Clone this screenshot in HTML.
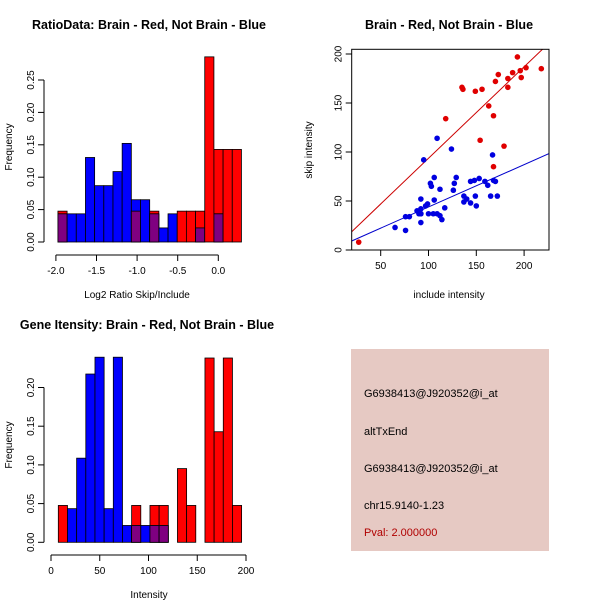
<!DOCTYPE html>
<html><head><meta charset="utf-8"><style>
html,body{margin:0;padding:0;background:#fff;}
svg{display:block;font-family:"Liberation Sans",Arial,sans-serif;}
.t{font-weight:bold;font-size:12.5px;text-anchor:middle;}
.tk{font-size:10px;}
.lb{font-size:10px;text-anchor:middle;}
</style></head><body>
<svg id="c" width="600" height="600" viewBox="0 0 600 600">
<rect width="600" height="600" fill="#fff"/>
<text class="t" x="149" y="29">RatioData: Brain - Red, Not Brain - Blue</text>
<text class="t" x="449" y="29">Brain - Red, Not Brain - Blue</text>
<text class="t" x="147" y="329">Gene Itensity: Brain - Red, Not Brain - Blue</text>
<text class="lb" x="137" y="298">Log2 Ratio Skip/Include</text>
<text class="lb" transform="translate(12,147) rotate(-90)">Frequency</text>
<text class="lb" x="449" y="298">include intensity</text>
<text class="lb" transform="translate(312,150) rotate(-90)">skip intensity</text>
<text class="lb" x="149" y="598">Intensity</text>
<text class="lb" transform="translate(12,445) rotate(-90)">Frequency</text>
<g id="g1"></g><g id="g2"></g><g id="g3"></g>
<g>
<rect x="351" y="349" width="198" height="202" fill="#e6c9c3"/>
<g font-size="11px">
<text x="364" y="397">G6938413@J920352@i_at</text>
<text x="364" y="435">altTxEnd</text>
<text x="364" y="472">G6938413@J920352@i_at</text>
<text x="364" y="509">chr15.9140-1.23</text>
<text x="364" y="536" fill="#b00000">Pval: 2.000000</text>
</g></g>
</svg>
<script>
// Ratio histogram data
const ratioRed = [1,0,0,0,0,0,0,0,1,0,1,0,0,1,1,1,6,3,3,3];
const ratioBlue = [2,2,2,6,4,4,5,7,3,3,2,1,2,0,0,1,0,2,0,0];
const ratioTicksX = [-2.0,-1.5,-1.0,-0.5,0.0];
const ratioTicksY = [0,0.05,0.10,0.15,0.20,0.25];
// Intensity histogram data
const intRed = [1,0,0,0,0,0,0,0,1,0,1,1,0,2,1,0,5,3,5,1];
const intBlue = [0,2,5,10,11,2,11,1,1,1,1,1,0,0,0,0,0,0,0,0];
const intTicksX = [0,50,100,150,200];
const intTicksY = [0,0.05,0.10,0.15,0.20];
// Scatter data
const redX = [27,118,135,136,149,156,154,163,168,168,170,173,179,183,183,188,193,196,197,202,218];
const redY = [8,134,166,164,162,164,112,147,137,85,172,179,106,175,166,181,197,183,176,186,185];
const blueX = [109,124,95,167,65,76,76,80,90,92,92,92,92,92,97,99,100,102,103,106,106,105,109,112,112,114,117,126,127,129,137,137,144,144,148,149,150,153,159,162,165,168,170,172,88,140];
const blueY = [114,103,92,97,23,20,34,34,37,37,37,42,52,28,45,47,37,68,65,74,51,37,37,35,62,31,43,61,68,74,55,49,48,70,71,55,45,73,70,66,55,71,70,55,40,52];
const redFit = [0.3,0.933];
const blueFit = [0.7,0.432];
const scTicksX = [50,100,150,200];
const scTicksY = [0,50,100,150,200];

const NS='http://www.w3.org/2000/svg';
function mk(p,tag,at){const e=document.createElementNS(NS,tag);for(const k in at)e.setAttribute(k,at[k]);p.appendChild(e);return e;}

function hist(g,red,blue,x0,bw,sx,sy,ticksX,ticksY,fmtX,yAxX,baseY){
  const nr=red.reduce((a,b)=>a+b,0), nb=blue.reduce((a,b)=>a+b,0);
  for(let i=0;i<red.length;i++){
    const xl=sx(x0+i*bw), xr=sx(x0+(i+1)*bw);
    const fr=red[i]/nr, fb=blue[i]/nb;
    if(fr>0){const r=mk(g,'rect',{x:xl,y:sy(fr),width:xr-xl,height:sy(0)-sy(fr),fill:'#ff0000',stroke:'#000','stroke-width':0.8});
      
      }
    if(fb>0){const b=mk(g,'rect',{x:xl,y:sy(fb),width:xr-xl,height:sy(0)-sy(fb),fill:'#0000ff',stroke:'#000','stroke-width':0.8});
      
      }
    if(fr>0&&fb>0){const m=Math.min(fr,fb);const p=mk(g,'rect',{x:xl,y:sy(m),width:xr-xl,height:sy(0)-sy(m),fill:'#7f0080',stroke:'#000','stroke-width':0.8});
      
      }
  }
  mk(g,'line',{x1:sx(ticksX[0]),x2:sx(ticksX[ticksX.length-1]),y1:baseY,y2:baseY,stroke:'#000'});
  ticksX.forEach(t=>{mk(g,'line',{x1:sx(t),x2:sx(t),y1:baseY,y2:baseY+6,stroke:'#000'});
    const tx=mk(g,'text',{x:sx(t),y:baseY+19,'text-anchor':'middle',class:'tk'});tx.textContent=fmtX(t);
    
    });
  mk(g,'line',{x1:yAxX,x2:yAxX,y1:sy(ticksY[0]),y2:sy(ticksY[ticksY.length-1]),stroke:'#000'});
  ticksY.forEach(t=>{mk(g,'line',{x1:yAxX,x2:yAxX-6,y1:sy(t),y2:sy(t),stroke:'#000'});
    const tx=mk(g,'text',{transform:`translate(${yAxX-10},${sy(t)}) rotate(-90)`,'text-anchor':'middle',class:'tk'});tx.textContent=t.toFixed(2);
    
    });
}
// top-left
{const g=document.getElementById('g1');
 const sx=v=>218.3+v*81.2, sy=v=>242-v*648;
 hist(g,ratioRed,ratioBlue,-1.975,0.113,sx,sy,ratioTicksX,ratioTicksY,t=>t.toFixed(1),44,255);}
// bottom-left
{const g=document.getElementById('g3');
 const sx=v=>51+v*0.975, sy=v=>542.3-v*774;
 hist(g,intRed,intBlue,7.5,9.4,sx,sy,intTicksX,intTicksY,t=>String(t),44,555);}
// scatter
{const g=document.getElementById('g2');
 const sx=v=>332.9+v*0.956, sy=v=>250-v*0.98;
 const L=351.7,R=549,T=49.3,B=250;
 const cp=mk(g,'clipPath',{id:'cp'});mk(cp,'rect',{x:L,y:T,width:R-L,height:B-T});
 [[redFit,'#cc0000','red-fit-line'],[blueFit,'#0000cc','blue-fit-line']].forEach(([f,c,n])=>{
   const xa=(L-332.9)/0.956, xb=(R-332.9)/0.956;
   const l=mk(g,'line',{x1:sx(xa),y1:sy(f[0]+f[1]*xa),x2:sx(xb),y2:sy(f[0]+f[1]*xb),stroke:c,'stroke-width':1,'clip-path':'url(#cp)'});
   
   });
 blueX.forEach((x,i)=>{const c=mk(g,'circle',{cx:sx(x),cy:sy(blueY[i]),r:2.8,fill:'#0000e0'});
   
   });
 redX.forEach((x,i)=>{const c=mk(g,'circle',{cx:sx(x),cy:sy(redY[i]),r:2.8,fill:'#e00000'});
   
   });
 mk(g,'rect',{x:L,y:T,width:R-L,height:B-T,fill:'none',stroke:'#000'});
 scTicksX.forEach(t=>{mk(g,'line',{x1:sx(t),x2:sx(t),y1:B,y2:B+6,stroke:'#000'});
   const tx=mk(g,'text',{x:sx(t),y:B+19,'text-anchor':'middle',class:'tk'});tx.textContent=t;
   
   });
 scTicksY.forEach(t=>{mk(g,'line',{x1:L,x2:L-6,y1:sy(t),y2:sy(t),stroke:'#000'});
   const tx=mk(g,'text',{transform:`translate(${L-10},${sy(t)}) rotate(-90)`,'text-anchor':'middle',class:'tk'});tx.textContent=t;
   
   });
}
</script>
</body></html>
